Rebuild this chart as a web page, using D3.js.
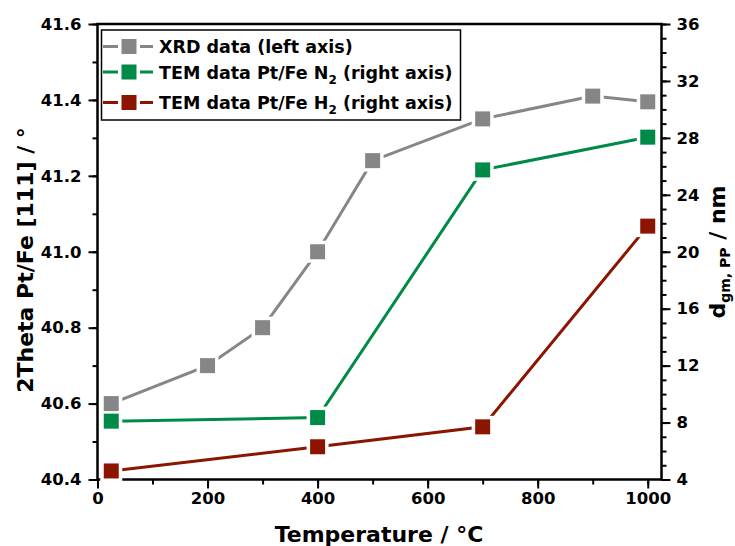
<!DOCTYPE html>
<html>
<head>
<meta charset="utf-8">
<script src="https://cdn.jsdelivr.net/npm/d3@7"></script>
<style>
body { margin: 0; background: #fff; }
text { font-family: "DejaVu Sans", sans-serif; font-weight: bold; fill: #000; }
</style>
</head>
<body>
<script>
// data
var xrdTemp = [25, 200, 300, 400, 500, 700, 900, 1000];
var xrdTheta = [40.6, 40.7, 40.8, 41.0, 41.24, 41.35, 41.41, 41.395];
var temTemp = [25, 400, 700, 1000];
var temN2 = [8.1, 8.35, 25.75, 28.05];
var temH2 = [4.6, 6.3, 7.7, 21.8];
var xTicks = [0, 200, 400, 600, 800, 1000];
var leftTicks = [40.4, 40.6, 40.8, 41.0, 41.2, 41.4, 41.6];
var rightTicks = [4, 8, 12, 16, 20, 24, 28, 32, 36];

var W = 735, H = 546;
var m = {left: 97.5, right: 661.5, top: 24, bottom: 479.5};

var svg = d3.select(document.body).append('svg')
    .attr('width', W).attr('height', H);

var x = d3.scaleLinear().domain([0, 1025]).range([m.left, m.right]);
var yL = d3.scaleLinear().domain([40.4, 41.6]).range([m.bottom, m.top]);
var yR = d3.scaleLinear().domain([4, 36]).range([m.bottom, m.top]);

// minor ticks
var minorX = d3.range(0, 1001, 100);
var minorL = d3.range(0, 13).map(function(i){ return 40.4 + i * 0.1; });
var minorR = d3.range(4, 37, 1);

function axisGroup(axis, tx, ty) {
    var g = svg.append('g').attr('transform', 'translate(' + tx + ',' + ty + ')').call(axis);
    g.select('.domain').remove();
    g.selectAll('line').attr('stroke', '#000').attr('stroke-width', 2);
    g.selectAll('text').style('font-size', '16.5px').style('font-family', '"DejaVu Sans", sans-serif').style('font-weight', 'bold');
    return g;
}

axisGroup(d3.axisBottom(x).tickValues(minorX).tickSize(5).tickFormat(''), 0, m.bottom);
axisGroup(d3.axisBottom(x).tickValues(xTicks).tickSize(9).tickPadding(4).tickFormat(d3.format('d')), 0, m.bottom);
axisGroup(d3.axisLeft(yL).tickValues(minorL).tickSize(5).tickFormat(''), m.left, 0);
axisGroup(d3.axisLeft(yL).tickValues(leftTicks).tickSize(9).tickPadding(7).tickFormat(d3.format('.1f')), m.left, 0);
axisGroup(d3.axisRight(yR).tickValues(minorR).tickSize(5).tickFormat(''), m.right, 0);
axisGroup(d3.axisRight(yR).tickValues(rightTicks).tickSize(9).tickPadding(6).tickFormat(d3.format('d')), m.right, 0);

// frame
svg.append('rect')
    .attr('x', m.left).attr('y', m.top)
    .attr('width', m.right - m.left).attr('height', m.bottom - m.top)
    .attr('fill', 'none').attr('stroke', '#000').attr('stroke-width', 2.5);

var series = [
    {name: 'XRD', xs: xrdTemp, ys: xrdTheta, scale: yL, color: '#868686'},
    {name: 'N2', xs: temTemp, ys: temN2, scale: yR, color: '#008a47'},
    {name: 'H2', xs: temTemp, ys: temH2, scale: yR, color: '#8b1500'}
];

var S = 15, GAP = 3.5;
var plot = svg.append('g');
var lineLayer = plot.append('g'), haloLayer = plot.append('g'), markLayer = plot.append('g');
series.forEach(function(s) {
    var pts = s.xs.map(function(t, i){ return [t, s.ys[i]]; });
    var line = d3.line().x(function(d){ return x(d[0]); }).y(function(d){ return s.scale(d[1]); });
    lineLayer.append('path').attr('d', line(pts))
        .attr('fill', 'none').attr('stroke', s.color).attr('stroke-width', 3);
    haloLayer.selectAll(null).data(pts).enter().append('rect')
        .attr('x', function(d){ return x(d[0]) - S / 2 - GAP; })
        .attr('y', function(d){ return s.scale(d[1]) - S / 2 - GAP; })
        .attr('width', S + 2 * GAP).attr('height', S + 2 * GAP)
        .attr('fill', '#fff');
    markLayer.selectAll(null).data(pts).enter().append('rect')
        .attr('x', function(d){ return x(d[0]) - S / 2; })
        .attr('y', function(d){ return s.scale(d[1]) - S / 2; })
        .attr('width', S).attr('height', S)
        .attr('fill', s.color);
});

// legend
var lg = svg.append('g');
lg.append('rect').attr('x', 101.5).attr('y', 30).attr('width', 359).attr('height', 90)
    .attr('fill', '#fff').attr('stroke', '#000').attr('stroke-width', 1.5);
var labels = [
    ['XRD data (left axis)', null],
    ['TEM data Pt/Fe N', '2'],
    ['TEM data Pt/Fe H', '2']
];
var rowY = [46.5, 72, 102.5];
series.forEach(function(s, i) {
    var cy = rowY[i];
    lg.append('line').attr('x1', 103).attr('x2', 153).attr('y1', cy).attr('y2', cy)
        .attr('stroke', s.color).attr('stroke-width', 3);
    lg.append('rect').attr('x', 129 - S / 2 - GAP).attr('y', cy - S / 2 - GAP)
        .attr('width', S + 2 * GAP).attr('height', S + 2 * GAP).attr('fill', '#fff');
    lg.append('rect').attr('x', 129 - S / 2).attr('y', cy - S / 2).attr('width', S).attr('height', S)
        .attr('fill', s.color);
    var t = lg.append('text').attr('x', 159).attr('y', cy + 6.5).style('font-size', '17.5px');
    t.append('tspan').text(labels[i][0]);
    if (labels[i][1]) {
        t.append('tspan').attr('dy', 5).style('font-size', '12px').text(labels[i][1]);
        t.append('tspan').attr('dy', -5).text(' (right axis)');
    }
});

// axis titles
svg.append('text').attr('x', 379).attr('y', 542)
    .attr('text-anchor', 'middle').style('font-size', '22px').text('Temperature / °C');

svg.append('text').attr('transform', 'translate(33,260) rotate(-90)')
    .attr('text-anchor', 'middle').style('font-size', '22px').text('2Theta Pt/Fe [111] / °');

var rt = svg.append('text').attr('transform', 'translate(725,252) rotate(-90)')
    .attr('text-anchor', 'middle').style('font-size', '22px');
rt.append('tspan').text('d');
rt.append('tspan').attr('dy', 5).style('font-size', '14px').text('gm, PP');
rt.append('tspan').attr('dy', -5).text(' / nm');
</script>
</body>
</html>
